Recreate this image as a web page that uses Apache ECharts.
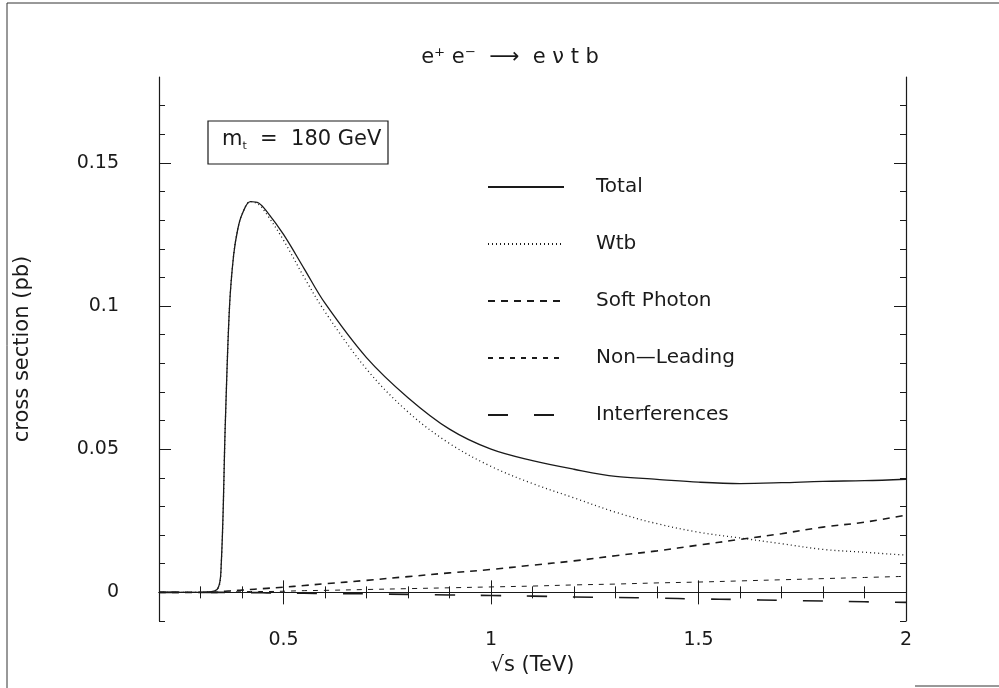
<!DOCTYPE html>
<html>
<head>
<meta charset="utf-8">
<script src="https://cdn.jsdelivr.net/npm/echarts@6/dist/echarts.min.js"></script>
<style>
  html, body { margin: 0; padding: 0; background: #fff; }
  #main { width: 999px; height: 688px; }
</style>
</head>
<body>
<div id="main"></div>
<script>
  // sqrt(s) in TeV
  var sqrtS = [0.2, 0.3, 0.34, 0.35, 0.36, 0.37, 0.38, 0.39, 0.40, 0.42, 0.44, 0.46, 0.5, 0.55, 0.6, 0.7, 0.8, 0.9, 1.0, 1.1, 1.2, 1.3, 1.4, 1.5, 1.6, 1.7, 1.8, 1.9, 2.0];
  // cross sections (pb)
  var total   = [0, 0, 0.001, 0.01, 0.06, 0.10, 0.118, 0.127, 0.132, 0.1365, 0.136, 0.133, 0.125, 0.113, 0.101, 0.082, 0.068, 0.057, 0.050, 0.046, 0.043, 0.0405, 0.0395, 0.0385, 0.038, 0.0383, 0.0388, 0.039, 0.0395];
  var wtb     = [0, 0, 0.001, 0.01, 0.06, 0.10, 0.118, 0.127, 0.132, 0.1365, 0.1355, 0.132, 0.123, 0.110, 0.098, 0.078, 0.063, 0.052, 0.044, 0.038, 0.033, 0.028, 0.024, 0.021, 0.019, 0.017, 0.015, 0.014, 0.013];
  var softPhoton  = [0, 0, 0, 0.0002, 0.0004, 0.0005, 0.0006, 0.0007, 0.0008, 0.001, 0.0012, 0.0014, 0.0018, 0.0024, 0.003, 0.0042, 0.0055, 0.0068, 0.008, 0.0095, 0.011, 0.0128, 0.0145, 0.0165, 0.0185, 0.0205, 0.0228, 0.0245, 0.027];
  var nonLeading  = [0, 0, 0, 0, 0.0001, 0.0001, 0.0002, 0.0002, 0.0002, 0.0003, 0.0003, 0.0003, 0.0004, 0.0006, 0.0007, 0.001, 0.0013, 0.0016, 0.0019, 0.0022, 0.0026, 0.0029, 0.0033, 0.0036, 0.004, 0.0044, 0.0048, 0.0052, 0.0056];
  var interf      = [0, 0, 0, 0, 0, 0, 0, 0, -0.0001, -0.0001, -0.0001, -0.0002, -0.0002, -0.0003, -0.0004, -0.0005, -0.0007, -0.0009, -0.0011, -0.0013, -0.0016, -0.0018, -0.002, -0.0023, -0.0025, -0.0028, -0.003, -0.0033, -0.0035];

  var xMajor = [0.5, 1, 1.5, 2];
  var xMinor = [0.3, 0.4, 0.6, 0.7, 0.8, 0.9, 1.1, 1.2, 1.3, 1.4, 1.6, 1.7, 1.8, 1.9];
  var yMajor = [0, 0.05, 0.1, 0.15];
  var yMinor = [-0.01, 0.01, 0.02, 0.03, 0.04, 0.06, 0.07, 0.08, 0.09, 0.11, 0.12, 0.13, 0.14, 0.16, 0.17];

  function pairs(ys) {
    var out = [];
    for (var i = 0; i < sqrtS.length; i++) out.push([sqrtS[i], ys[i]]);
    return out;
  }

  var font = 'DejaVu Sans';
  var ink = '#1a1a1a';

  // one axis per side for major ticks + labels, one more for minor ticks
  function xAx(pos, ticks, len, labels, line) {
    return {
      type: 'value', position: pos, min: 0.2, max: 2.0,
      axisLine: { show: line, lineStyle: { color: ink, width: 1.2 } },
      axisTick: { show: true, inside: true, length: len, customValues: ticks, lineStyle: { color: ink } },
      axisLabel: labels ? { show: true, customValues: ticks, fontFamily: font, fontSize: 19, color: ink, margin: 10,
        formatter: function (v) { return String(v); } } : { show: false },
      splitLine: { show: false }
    };
  }
  function yAx(pos, ticks, len, labels, line) {
    return {
      type: 'value', position: pos, min: -0.01, max: 0.18,
      axisLine: { show: line, lineStyle: { color: ink, width: 1.2 } },
      axisTick: { show: true, inside: true, length: len, customValues: ticks, lineStyle: { color: ink } },
      axisLabel: labels ? { show: true, customValues: ticks, fontFamily: font, fontSize: 19, color: ink, margin: 40,
        formatter: function (v) { return String(Math.round(v * 100) / 100); } } : { show: false },
      splitLine: { show: false }
    };
  }

  var xAxes = [xAx('bottom', xMajor, 12, true, true), xAx('bottom', xMinor, 6, false, false),
               xAx('top', xMajor, 12, false, true), xAx('top', xMinor, 6, false, false)];
  xAxes[0].name = '\u221As (TeV)';
  xAxes[0].nameLocation = 'middle';
  xAxes[0].nameGap = 33;
  xAxes[0].nameTextStyle = { fontFamily: font, fontSize: 21, color: ink };

  var yAxes = [yAx('left', yMajor, 12, true, true), yAx('left', yMinor, 6, false, false),
               yAx('right', yMajor, 12, false, true), yAx('right', yMinor, 6, false, false)];
  yAxes[0].name = 'cross section (pb)';
  yAxes[0].nameLocation = 'middle';
  yAxes[0].nameGap = 126;
  yAxes[0].nameTextStyle = { fontFamily: font, fontSize: 21, color: ink };

  var myChart = echarts.init(document.getElementById('main'));
  myChart.setOption({
    backgroundColor: '#fff',
    animation: false,
    title: {
      text: 'e\u207A e\u207B  \u27F6  e \u03BD t b',
      left: 505, top: 42, textAlign: 'center',
      textStyle: { fontFamily: font, fontSize: 21, fontWeight: 'normal', color: ink }
    },
    grid: { left: 159, right: 93, top: 77, bottom: 67 },
    xAxis: xAxes,
    yAxis: yAxes,
    legend: {
      orient: 'vertical', left: 482, top: 172,
      itemWidth: 76, itemHeight: 20, itemGap: 37,
      itemStyle: { opacity: 0 },
      textStyle: { fontFamily: font, fontSize: 20, color: ink, padding: [0, 0, 0, 27] },
      data: ['Total', 'Wtb', 'Soft Photon', 'Non\u2014Leading', 'Interferences']
    },
    graphic: [
      { type: 'rect', shape: { x: 208, y: 121, width: 180, height: 43 }, style: { fill: 'none', stroke: ink, lineWidth: 1.2 } },
      { type: 'text', left: 222, top: 129, style: {
          text: '{m|m}{s|t}{m|  =  180 GeV}',
          rich: { m: { fontFamily: font, fontSize: 21, fill: ink }, s: { fontFamily: font, fontSize: 11, fill: ink, padding: [14, 0, 0, 0] } }
        } },
      { type: 'line', shape: { x1: 7, y1: 3, x2: 999, y2: 3 }, style: { stroke: '#333', lineWidth: 1 } },
      { type: 'line', shape: { x1: 7, y1: 3, x2: 7, y2: 688 }, style: { stroke: '#333', lineWidth: 1 } },
      { type: 'line', shape: { x1: 915, y1: 686, x2: 999, y2: 686 }, style: { stroke: '#333', lineWidth: 1 } }
    ],
    series: [
      { name: 'Total', type: 'line', data: pairs(total), showSymbol: false, symbol: 'none', smooth: 0.35,
        lineStyle: { color: ink, width: 1.3, type: 'solid' }, itemStyle: { color: ink },
        markLine: { silent: true, symbol: 'none', label: { show: false }, lineStyle: { color: ink, width: 1.2, type: 'solid' }, data: [{ yAxis: 0 }] } },
      { name: 'Wtb', type: 'line', data: pairs(wtb), showSymbol: false, symbol: 'none', smooth: 0.35,
        lineStyle: { color: ink, width: 1.3, type: [1, 3] }, itemStyle: { color: ink } },
      { name: 'Soft Photon', type: 'line', data: pairs(softPhoton), showSymbol: false, symbol: 'none', smooth: 0.35,
        lineStyle: { color: ink, width: 1.6, type: [7, 6] }, itemStyle: { color: ink } },
      { name: 'Non\u2014Leading', type: 'line', data: pairs(nonLeading), showSymbol: false, symbol: 'none', smooth: 0.35,
        lineStyle: { color: ink, width: 1, type: [5, 6] }, itemStyle: { color: ink } },
      { name: 'Interferences', type: 'line', data: pairs(interf), showSymbol: false, symbol: 'none', smooth: 0.35,
        lineStyle: { color: ink, width: 1.6, type: [20, 26] }, itemStyle: { color: ink } }
    ]
  });
</script>
</body>
</html>
